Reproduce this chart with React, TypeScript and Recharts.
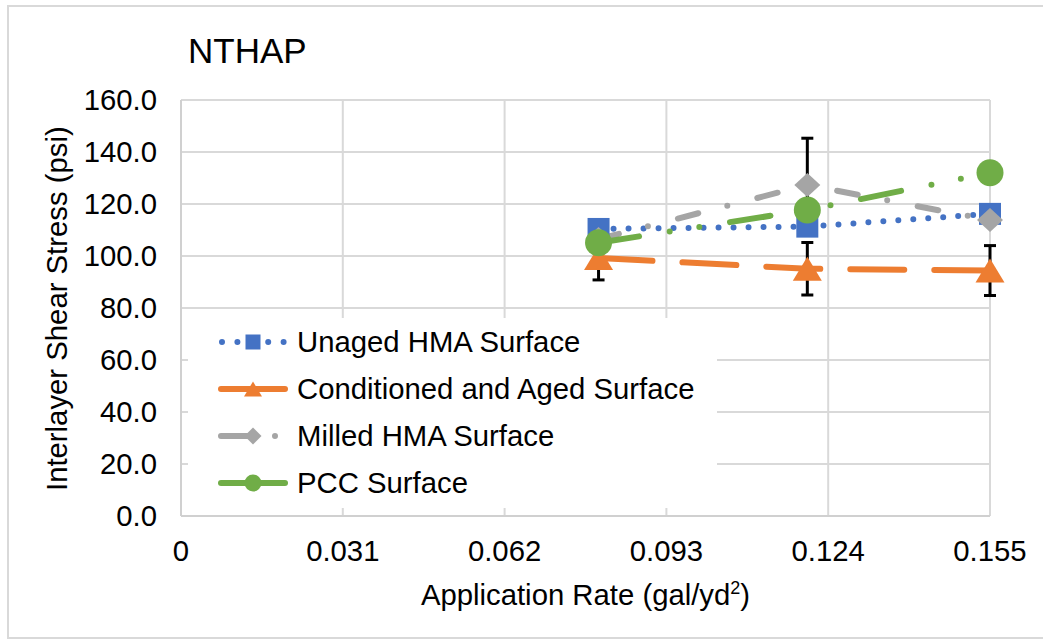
import React from 'react';
import { LineChart, Line, XAxis, YAxis, CartesianGrid, ErrorBar } from 'recharts';

const FONT = '"Liberation Sans", Arial, sans-serif';
const FS = 29.3;

// application rates (gal/yd2)
const rates = [0.08, 0.12, 0.155];
const xTicks = [0, 0.031, 0.062, 0.093, 0.124, 0.155];
const yTicks = [0, 20, 40, 60, 80, 100, 120, 140, 160];

// interlayer shear stress (psi)
const unaged = [110.4, 111.3, 116.2];
const conditioned = [99.2, 95.1, 94.4];
const conditionedErr = [8.4, 10.1, 9.6];
const milled = [106.5, 127.3, 113.8];
const milledErr = [0, 18, 0];
const pcc = [105.1, 117.7, 132];

const toPoints = (vals: number[], errs?: number[]) =>
  vals.map((v, i) => ({ x: rates[i], y: v, err: errs ? errs[i] : 0 }));

const BLUE = '#4472C4';
const ORANGE = '#ED7D31';
const GRAY = '#A5A5A5';
const GREEN = '#70AD47';

const square = (cx: number, cy: number, s: number, color: string, key?: any) => (
  <rect key={key} x={cx - s / 2} y={cy - s / 2} width={s} height={s} fill={color} />
);
const triangle = (cx: number, cy: number, w: number, h: number, color: string, key?: any) => (
  <polygon key={key} points={`${cx},${cy - h / 2} ${cx + w / 2},${cy + h / 2} ${cx - w / 2},${cy + h / 2}`} fill={color} />
);
const diamond = (cx: number, cy: number, w: number, h: number, color: string, key?: any) => (
  <polygon key={key} points={`${cx},${cy - h / 2} ${cx + w / 2},${cy} ${cx},${cy + h / 2} ${cx - w / 2},${cy}`} fill={color} />
);
const circle = (cx: number, cy: number, r: number, color: string, key?: any) => (
  <circle key={key} cx={cx} cy={cy} r={r} fill={color} />
);

const legendItems = [
  { name: 'Unaged HMA Surface', color: BLUE, dash: '0 15.4', x1: 222, marker: (y: number) => square(253, y, 15, BLUE) },
  { name: 'Conditioned and Aged Surface', color: ORANGE, dash: undefined, x1: 221, marker: (y: number) => triangle(253, y, 18, 15, ORANGE) },
  { name: 'Milled HMA Surface', color: GRAY, dash: '30 24 0 30', x1: 221, marker: (y: number) => diamond(253, y, 17, 17, GRAY) },
  { name: 'PCC Surface', color: GREEN, dash: undefined, x1: 221, marker: (y: number) => circle(253, y, 8.5, GREEN) },
];

function Legend() {
  return (
    <svg width={1043} height={641} style={{ position: 'absolute', left: 0, top: 0, pointerEvents: 'none' }}>
      <rect x={188} y={318} width={529} height={190} fill="#fff" />
      {legendItems.map((it, i) => {
        const base = 352 + i * 47;
        const cy = base - 10;
        return (
          <g key={it.name}>
            <line x1={it.x1} y1={cy} x2={285} y2={cy} stroke={it.color} strokeWidth={6}
              strokeLinecap="round" strokeDasharray={it.dash} />
            {it.marker(cy)}
            <text x={297} y={base} fontSize={FS} fontFamily={FONT} fill="#000">{it.name}</text>
          </g>
        );
      })}
    </svg>
  );
}

export default function App() {
  return (
    <div style={{ position: 'absolute', left: 0, top: 0, width: 1043, height: 641, background: '#fff', fontFamily: FONT }}>
      <div style={{ position: 'absolute', left: 7, top: 5, width: 1040, height: 634, border: '2px solid #D9D9D9', boxSizing: 'border-box' }} />
      <LineChart width={1043} height={641} margin={{ top: 100, right: 53, bottom: 65, left: 0 }}>
        <CartesianGrid stroke="#D9D9D9" strokeWidth={2} horizontalValues={yTicks} verticalValues={xTicks} />
        <XAxis type="number" dataKey="x" domain={[0, 0.155]} ticks={xTicks} interval={0} height={60}
          tickFormatter={(v: number) => (v === 0 ? '0' : v.toFixed(3))}
          tick={{ fill: '#000', fontSize: FS, fontFamily: FONT }}
          axisLine={{ stroke: '#D0D0D0', strokeWidth: 2 }} tickLine={false} tickSize={8} tickMargin={16} />
        <YAxis type="number" domain={[0, 160]} ticks={yTicks} interval={0} width={181}
          tickFormatter={(v: number) => v.toFixed(1)}
          tick={{ fill: '#000', fontSize: FS, fontFamily: FONT }}
          axisLine={{ stroke: '#D0D0D0', strokeWidth: 2 }} tickLine={false} tickSize={8} tickMargin={16} />
        <Line data={toPoints(unaged)} dataKey="y" name="Unaged HMA Surface" type="linear"
          stroke={BLUE} strokeWidth={6} strokeLinecap="round" strokeDasharray="0 15"
          isAnimationActive={false} activeDot={false}
          dot={(p: any) => square(p.cx, p.cy, 22, BLUE, `u${p.index}`)} />
        <Line data={toPoints(conditioned, conditionedErr)} dataKey="y" name="Conditioned and Aged Surface" type="linear"
          stroke={ORANGE} strokeWidth={6} strokeLinecap="round" strokeDasharray="54 30"
          isAnimationActive={false} activeDot={false}
          dot={(p: any) => triangle(p.cx, p.cy, 29, 24, ORANGE, `c${p.index}`)}>
          <ErrorBar dataKey="err" direction="y" width={6} strokeWidth={3} stroke="#000" />
        </Line>
        <Line data={toPoints(milled, milledErr)} dataKey="y" name="Milled HMA Surface" type="linear"
          stroke={GRAY} strokeWidth={6} strokeLinecap="round" strokeDasharray="21 30 0 31"
          isAnimationActive={false} activeDot={false}
          dot={(p: any) => diamond(p.cx, p.cy, 26, 24, GRAY, `m${p.index}`)}>
          <ErrorBar dataKey="err" direction="y" width={6} strokeWidth={3} stroke="#000" />
        </Line>
        <Line data={toPoints(pcc)} dataKey="y" name="PCC Surface" type="linear"
          stroke={GREEN} strokeWidth={6} strokeLinecap="round" strokeDasharray="41 31 0 30 0 31"
          isAnimationActive={false} activeDot={false}
          dot={(p: any) => circle(p.cx, p.cy, 13.5, GREEN, `p${p.index}`)} />
      </LineChart>
      <Legend />
      <div style={{ position: 'absolute', left: 188, top: 33.4, fontSize: 35, lineHeight: 1, color: '#000', whiteSpace: 'nowrap' }}>NTHAP</div>
      <div style={{ position: 'absolute', left: 181, top: 580.2, width: 809, textAlign: 'center', fontSize: FS, lineHeight: 1, color: '#000', whiteSpace: 'nowrap' }}>
        Application Rate (gal/yd<sup style={{ fontSize: 18, lineHeight: 0 }}>2</sup>)
      </div>
      <div style={{ position: 'absolute', left: 56.85 - 200, top: 308.5 - FS / 2, width: 400, height: FS, textAlign: 'center', fontSize: FS, lineHeight: 1, color: '#000', whiteSpace: 'nowrap', transform: 'rotate(-90deg)' }}>
        Interlayer Shear Stress (psi)
      </div>
    </div>
  );
}
